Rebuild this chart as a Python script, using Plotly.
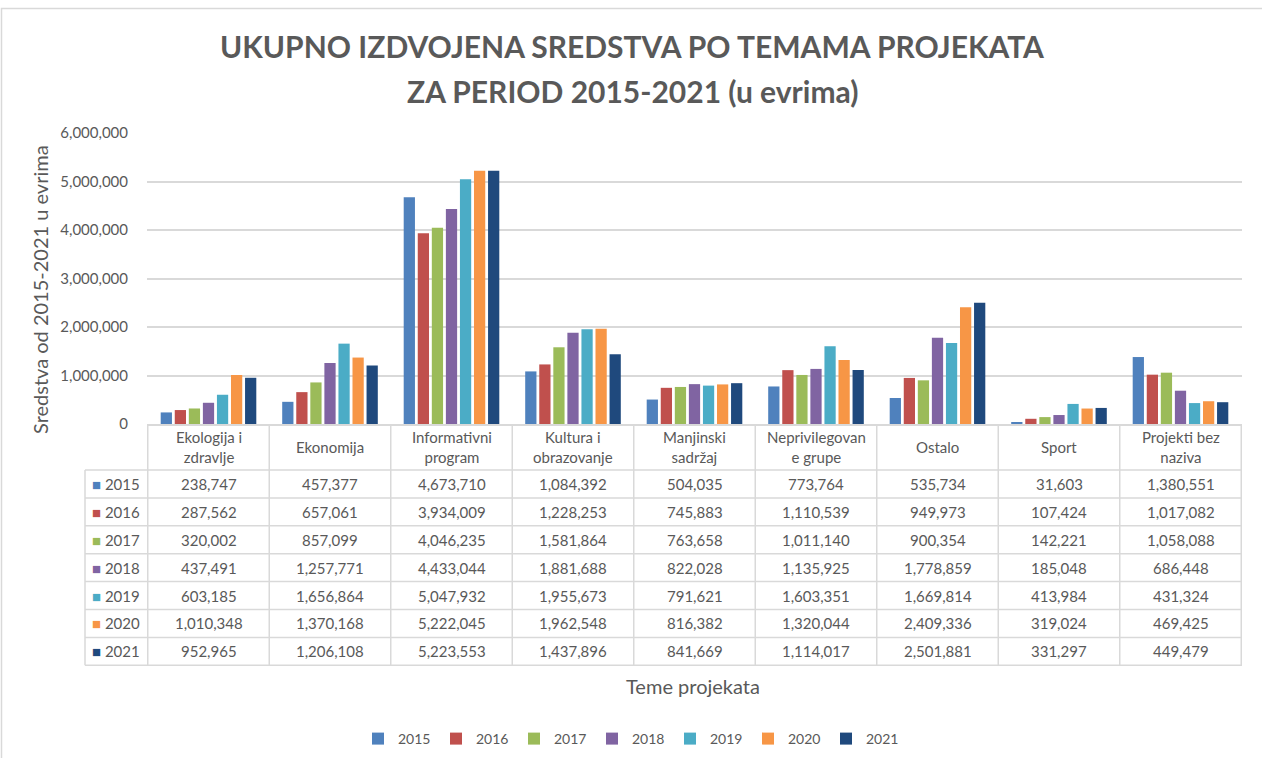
import plotly.graph_objects as go

categories = ["Ekologija i zdravlje", "Ekonomija", "Informativni program", "Kultura i obrazovanje",
              "Manjinski sadržaj", "Neprivilegovane grupe", "Ostalo", "Sport", "Projekti bez naziva"]
header_labels = ["Ekologija i<br>zdravlje", "Ekonomija", "Informativni<br>program", "Kultura i<br>obrazovanje",
                 "Manjinski<br>sadržaj", "Neprivilegovan<br>e grupe", "Ostalo", "Sport", "Projekti bez<br>naziva"]
years = ["2015", "2016", "2017", "2018", "2019", "2020", "2021"]
title_lines = ["UKUPNO IZDVOJENA SREDSTVA PO TEMAMA PROJEKATA", "ZA PERIOD 2015-2021 (u evrima)"]

v2015 = [238747, 457377, 4673710, 1084392, 504035, 773764, 535734, 31603, 1380551]
v2016 = [287562, 657061, 3934009, 1228253, 745883, 1110539, 949973, 107424, 1017082]
v2017 = [320002, 857099, 4046235, 1581864, 763658, 1011140, 900354, 142221, 1058088]
v2018 = [437491, 1257771, 4433044, 1881688, 822028, 1135925, 1778859, 185048, 686448]
v2019 = [603185, 1656864, 5047932, 1955673, 791621, 1603351, 1669814, 413984, 431324]
v2020 = [1010348, 1370168, 5222045, 1962548, 816382, 1320044, 2409336, 319024, 469425]
v2021 = [952965, 1206108, 5223553, 1437896, 841669, 1114017, 2501881, 331297, 449479]
series = [v2015, v2016, v2017, v2018, v2019, v2020, v2021]

colors = ["#4F81BD", "#C0504D", "#9BBB59", "#8064A2", "#4BACC6", "#F79646", "#1F497D"]

W, H = 1262, 758
FONT = "Lato"
TXT = "#595959"
GRID = "#D9D9D9"

# pixel layout
plot_l, plot_r = 147, 1242
plot_t, plot_b = 133, 424
hdr_b = 470
row_h = 27.9
key_l = 85

def px(xp):
    return xp / W

def py(yp):
    return 1 - yp / H

fig = go.Figure()
for yr, vals, c in zip(years, series, colors):
    fig.add_trace(go.Bar(x=categories, y=vals, name=yr, marker=dict(color=c, line=dict(width=0))))

annotations = []
shapes = []

# header cells
for cat, lab in zip(categories, header_labels):
    annotations.append(dict(x=cat, xref="x", y=py((plot_b + hdr_b) / 2), yref="paper",
                            text=lab, showarrow=False, font=dict(family=FONT, size=15, color=TXT),
                            align="center", xanchor="center", yanchor="middle"))
# data cells
for r, (yr, vals, c) in enumerate(zip(years, series, colors)):
    yc = py(hdr_b + row_h * (r + 0.5))
    annotations.append(dict(x=px((key_l + plot_l) / 2), xref="paper", y=yc, yref="paper",
                            text=f"<span style='color:{c}'>■</span> {yr}", showarrow=False,
                            font=dict(family=FONT, size=15, color=TXT),
                            xanchor="center", yanchor="middle"))
    for cat, v in zip(categories, vals):
        annotations.append(dict(x=cat, xref="x", y=yc, yref="paper", text=f"{v:,}",
                                showarrow=False, font=dict(family=FONT, size=15, color=TXT),
                                xanchor="center", yanchor="middle"))

tbl_b = hdr_b + row_h * len(years)
# vertical table lines
for i in range(len(categories) + 1):
    shapes.append(dict(type="line", xref="x", yref="paper", x0=i - 0.5, x1=i - 0.5,
                       y0=py(plot_b), y1=py(tbl_b), line=dict(color=GRID, width=1.5)))
shapes.append(dict(type="line", xref="paper", yref="paper", x0=px(key_l), x1=px(key_l),
                   y0=py(hdr_b), y1=py(tbl_b), line=dict(color=GRID, width=1.5)))
# horizontal table lines
for k in range(len(years) + 1):
    yy = py(hdr_b + row_h * k)
    shapes.append(dict(type="line", xref="paper", yref="paper", x0=px(key_l), x1=px(plot_r),
                       y0=yy, y1=yy, line=dict(color=GRID, width=1.5)))
# chart border
shapes.append(dict(type="rect", xref="paper", yref="paper", x0=px(1.5), x1=px(1300),
                   y0=py(800), y1=py(8.5), line=dict(color=GRID, width=1.5)))

# axis titles
annotations.append(dict(x=px(40), xref="paper", y=py(290), yref="paper",
                        text="Sredstva od 2015-2021 u evrima", textangle=-90, showarrow=False,
                        xanchor="center", yanchor="middle",
                        font=dict(family=FONT, size=20, color=TXT)))
annotations.append(dict(x=px(693), xref="paper", y=py(686), yref="paper",
                        text="Teme projekata", showarrow=False,
                        xanchor="center", yanchor="middle",
                        font=dict(family=FONT, size=20, color=TXT)))
# title (two lines)
for line, yline in zip(title_lines, [46, 91]):
    annotations.append(dict(x=px(632), xref="paper", y=py(yline), yref="paper",
                            text=f"<b>{line}</b>", showarrow=False,
                            xanchor="center", yanchor="middle",
                            font=dict(family=FONT, size=30, color=TXT)))

fig.update_layout(
    width=W, height=H,
    margin=dict(l=0, r=0, t=0, b=0, autoexpand=False),
    paper_bgcolor="white", plot_bgcolor="white",
    barmode="group", bargap=0.19, bargroupgap=0.2,
    xaxis=dict(domain=[px(plot_l), px(plot_r)], showticklabels=False, ticks="",
               showgrid=False, showline=True, linecolor=GRID, linewidth=1.5, fixedrange=True),
    yaxis=dict(domain=[py(plot_b), py(plot_t)], range=[0, 6000000], dtick=1000000,
               tickformat=",", showgrid=True, gridcolor=GRID, gridwidth=1.5, zeroline=False,
               showline=False, ticks="", ticklabelstandoff=18,
               tickfont=dict(family=FONT, size=15, color=TXT)),
    legend=dict(orientation="h", x=0.5, xanchor="center", y=py(739), yanchor="middle",
                font=dict(family=FONT, size=14, color=TXT), itemwidth=30, traceorder="normal",
                entrywidth=33, entrywidthmode="pixels"),
    annotations=annotations, shapes=shapes,
    font=dict(family=FONT, color=TXT),
)

fig.write_html("out.html", config={"displayModeBar": False},
               post_script="document.body.style.margin='0';document.body.style.overflow='hidden';")
